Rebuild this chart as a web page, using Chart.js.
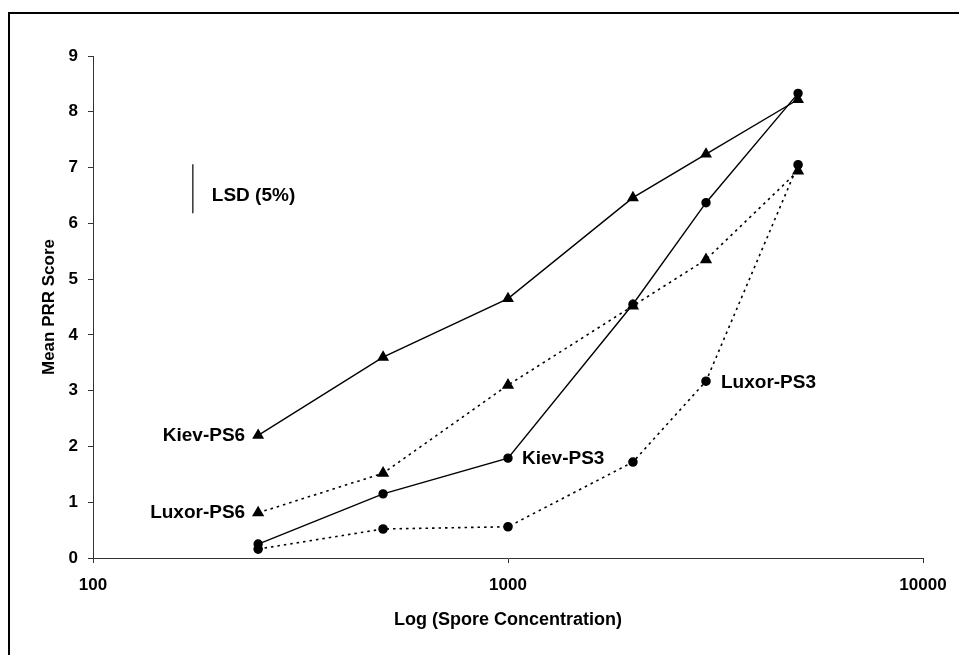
<!DOCTYPE html>
<html>
<head>
<meta charset="utf-8">
<script src="https://cdn.jsdelivr.net/npm/chart.js@4"></script>
<style>
  html, body { margin: 0; padding: 0; background: #fff; }
  #wrap { width: 959px; height: 655px; position: relative; }
</style>
</head>
<body>
<div id="wrap"><canvas id="c" width="959" height="655"></canvas></div>
<script>
// ---- data ----
const concentrations = [250, 500, 1000, 2000, 3000, 5000];
const kievPS6  = [2.2, 3.6, 4.65, 6.46, 7.24, 8.22];
const luxorPS6 = [0.81, 1.52, 3.1, 4.52, 5.35, 6.94];
const kievPS3  = [0.25, 1.15, 1.79, 4.55, 6.37, 8.33];
const luxorPS3 = [0.16, 0.52, 0.56, 1.72, 3.17, 7.05];
const xTickValues = [100, 1000, 10000];
const yTickValues = [0, 1, 2, 3, 4, 5, 6, 7, 8, 9];
// LSD (5%) bar: x position and its low / high values
const lsdX = [174, 174];
const lsdY = [6.18, 7.06];

const toPoints = (xs, ys) => xs.map((x, i) => ({ x: x, y: ys[i] }));

const FONT = "'Liberation Sans', Arial, Helvetica, sans-serif";

// in-chart text labels, anchored to data points
const labelDefs = [
  { text: 'Kiev-PS6',  x: concentrations[0], y: kievPS6[0],  dx: -13, dy: 0, align: 'right' },
  { text: 'Luxor-PS6', x: concentrations[0], y: luxorPS6[0], dx: -13, dy: 0, align: 'right' },
  { text: 'Kiev-PS3',  x: concentrations[2], y: kievPS3[2],  dx: 14,  dy: 1, align: 'left' },
  { text: 'Luxor-PS3', x: concentrations[4], y: luxorPS3[4], dx: 15,  dy: 2, align: 'left' },
  { text: 'LSD (5%)',  x: lsdX[0], y: (lsdY[0] + lsdY[1]) / 2, dx: 19, dy: 7, align: 'left' }
];

const framePlugin = {
  id: 'frame',
  beforeDraw(chart) {
    const ctx = chart.ctx;
    ctx.save();
    ctx.fillStyle = '#fff';
    ctx.fillRect(0, 0, chart.width, chart.height);
    ctx.strokeStyle = '#000';
    ctx.lineWidth = 2;
    ctx.beginPath();
    ctx.moveTo(9, chart.height);
    ctx.lineTo(9, 13);
    ctx.lineTo(chart.width, 13);
    ctx.stroke();
    ctx.restore();
  }
};

const labelPlugin = {
  id: 'labels',
  afterDatasetsDraw(chart) {
    const ctx = chart.ctx;
    const xs = chart.scales.x, ys = chart.scales.y;
    ctx.save();
    ctx.fillStyle = '#000';
    ctx.font = 'bold 19px ' + FONT;
    ctx.textBaseline = 'middle';
    labelDefs.forEach(l => {
      ctx.textAlign = l.align;
      ctx.fillText(l.text, xs.getPixelForValue(l.x) + l.dx, ys.getPixelForValue(l.y) + l.dy);
    });
    ctx.restore();
  }
};

const solid = { borderColor: '#000', backgroundColor: '#000', borderWidth: 1.4, showLine: true,
                pointBorderColor: '#000', pointBackgroundColor: '#000', clip: false };
const dotted = Object.assign({}, solid, { borderDash: [2.5, 4], borderWidth: 1.6 });

new Chart(document.getElementById('c'), {
  type: 'scatter',
  data: {
    datasets: [
      Object.assign({}, solid,  { label: 'Kiev-PS6',  data: toPoints(concentrations, kievPS6),  pointStyle: 'triangle', pointRadius: 5.5 }),
      Object.assign({}, dotted, { label: 'Luxor-PS6', data: toPoints(concentrations, luxorPS6), pointStyle: 'triangle', pointRadius: 5.5 }),
      Object.assign({}, solid,  { label: 'Kiev-PS3',  data: toPoints(concentrations, kievPS3),  pointStyle: 'circle', pointRadius: 4 }),
      Object.assign({}, dotted, { label: 'Luxor-PS3', data: toPoints(concentrations, luxorPS3), pointStyle: 'circle', pointRadius: 4 }),
      { label: 'LSD (5%)', data: toPoints(lsdX, lsdY), showLine: true, pointRadius: 0,
        borderColor: '#333', borderWidth: 1.5, clip: false }
    ]
  },
  options: {
    responsive: false,
    animation: false,
    events: [],
    layout: { padding: { top: 56, right: 36, left: 0, bottom: 0 } },
    plugins: { legend: { display: false }, tooltip: { enabled: false } },
    scales: {
      x: {
        type: 'logarithmic',
        min: 100, max: 10000,
        afterBuildTicks(scale) { scale.ticks = xTickValues.map(v => ({ value: v })); },
        afterFit(scale) { scale.height = 97; },
        ticks: {
          color: '#000', padding: 12, maxRotation: 0, autoSkip: false,
          font: { family: FONT, size: 17, weight: 'bold' },
          callback: v => String(v)
        },
        grid: { drawOnChartArea: false, drawTicks: true, tickLength: 5, color: '#333', lineWidth: 1 },
        border: { display: true, color: '#333', width: 1 },
        title: { display: true, text: 'Log (Spore Concentration)', color: '#000',
                 font: { family: FONT, size: 18, weight: 'bold' }, padding: { top: 0, bottom: 24 } }
      },
      y: {
        type: 'linear',
        min: 0, max: 9,
        afterBuildTicks(scale) { scale.ticks = yTickValues.map(v => ({ value: v })); },
        afterFit(scale) { scale.width = 93; },
        ticks: {
          color: '#000', padding: 10,
          font: { family: FONT, size: 17, weight: 'bold' }
        },
        grid: { drawOnChartArea: false, drawTicks: true, tickLength: 5, color: '#333', lineWidth: 1 },
        border: { display: true, color: '#333', width: 1 },
        title: { display: true, text: 'Mean PRR Score', color: '#000',
                 font: { family: FONT, size: 17, weight: 'bold' }, padding: { top: 39, bottom: 0 } }
      }
    }
  },
  plugins: [framePlugin, labelPlugin]
});
</script>
</body>
</html>
